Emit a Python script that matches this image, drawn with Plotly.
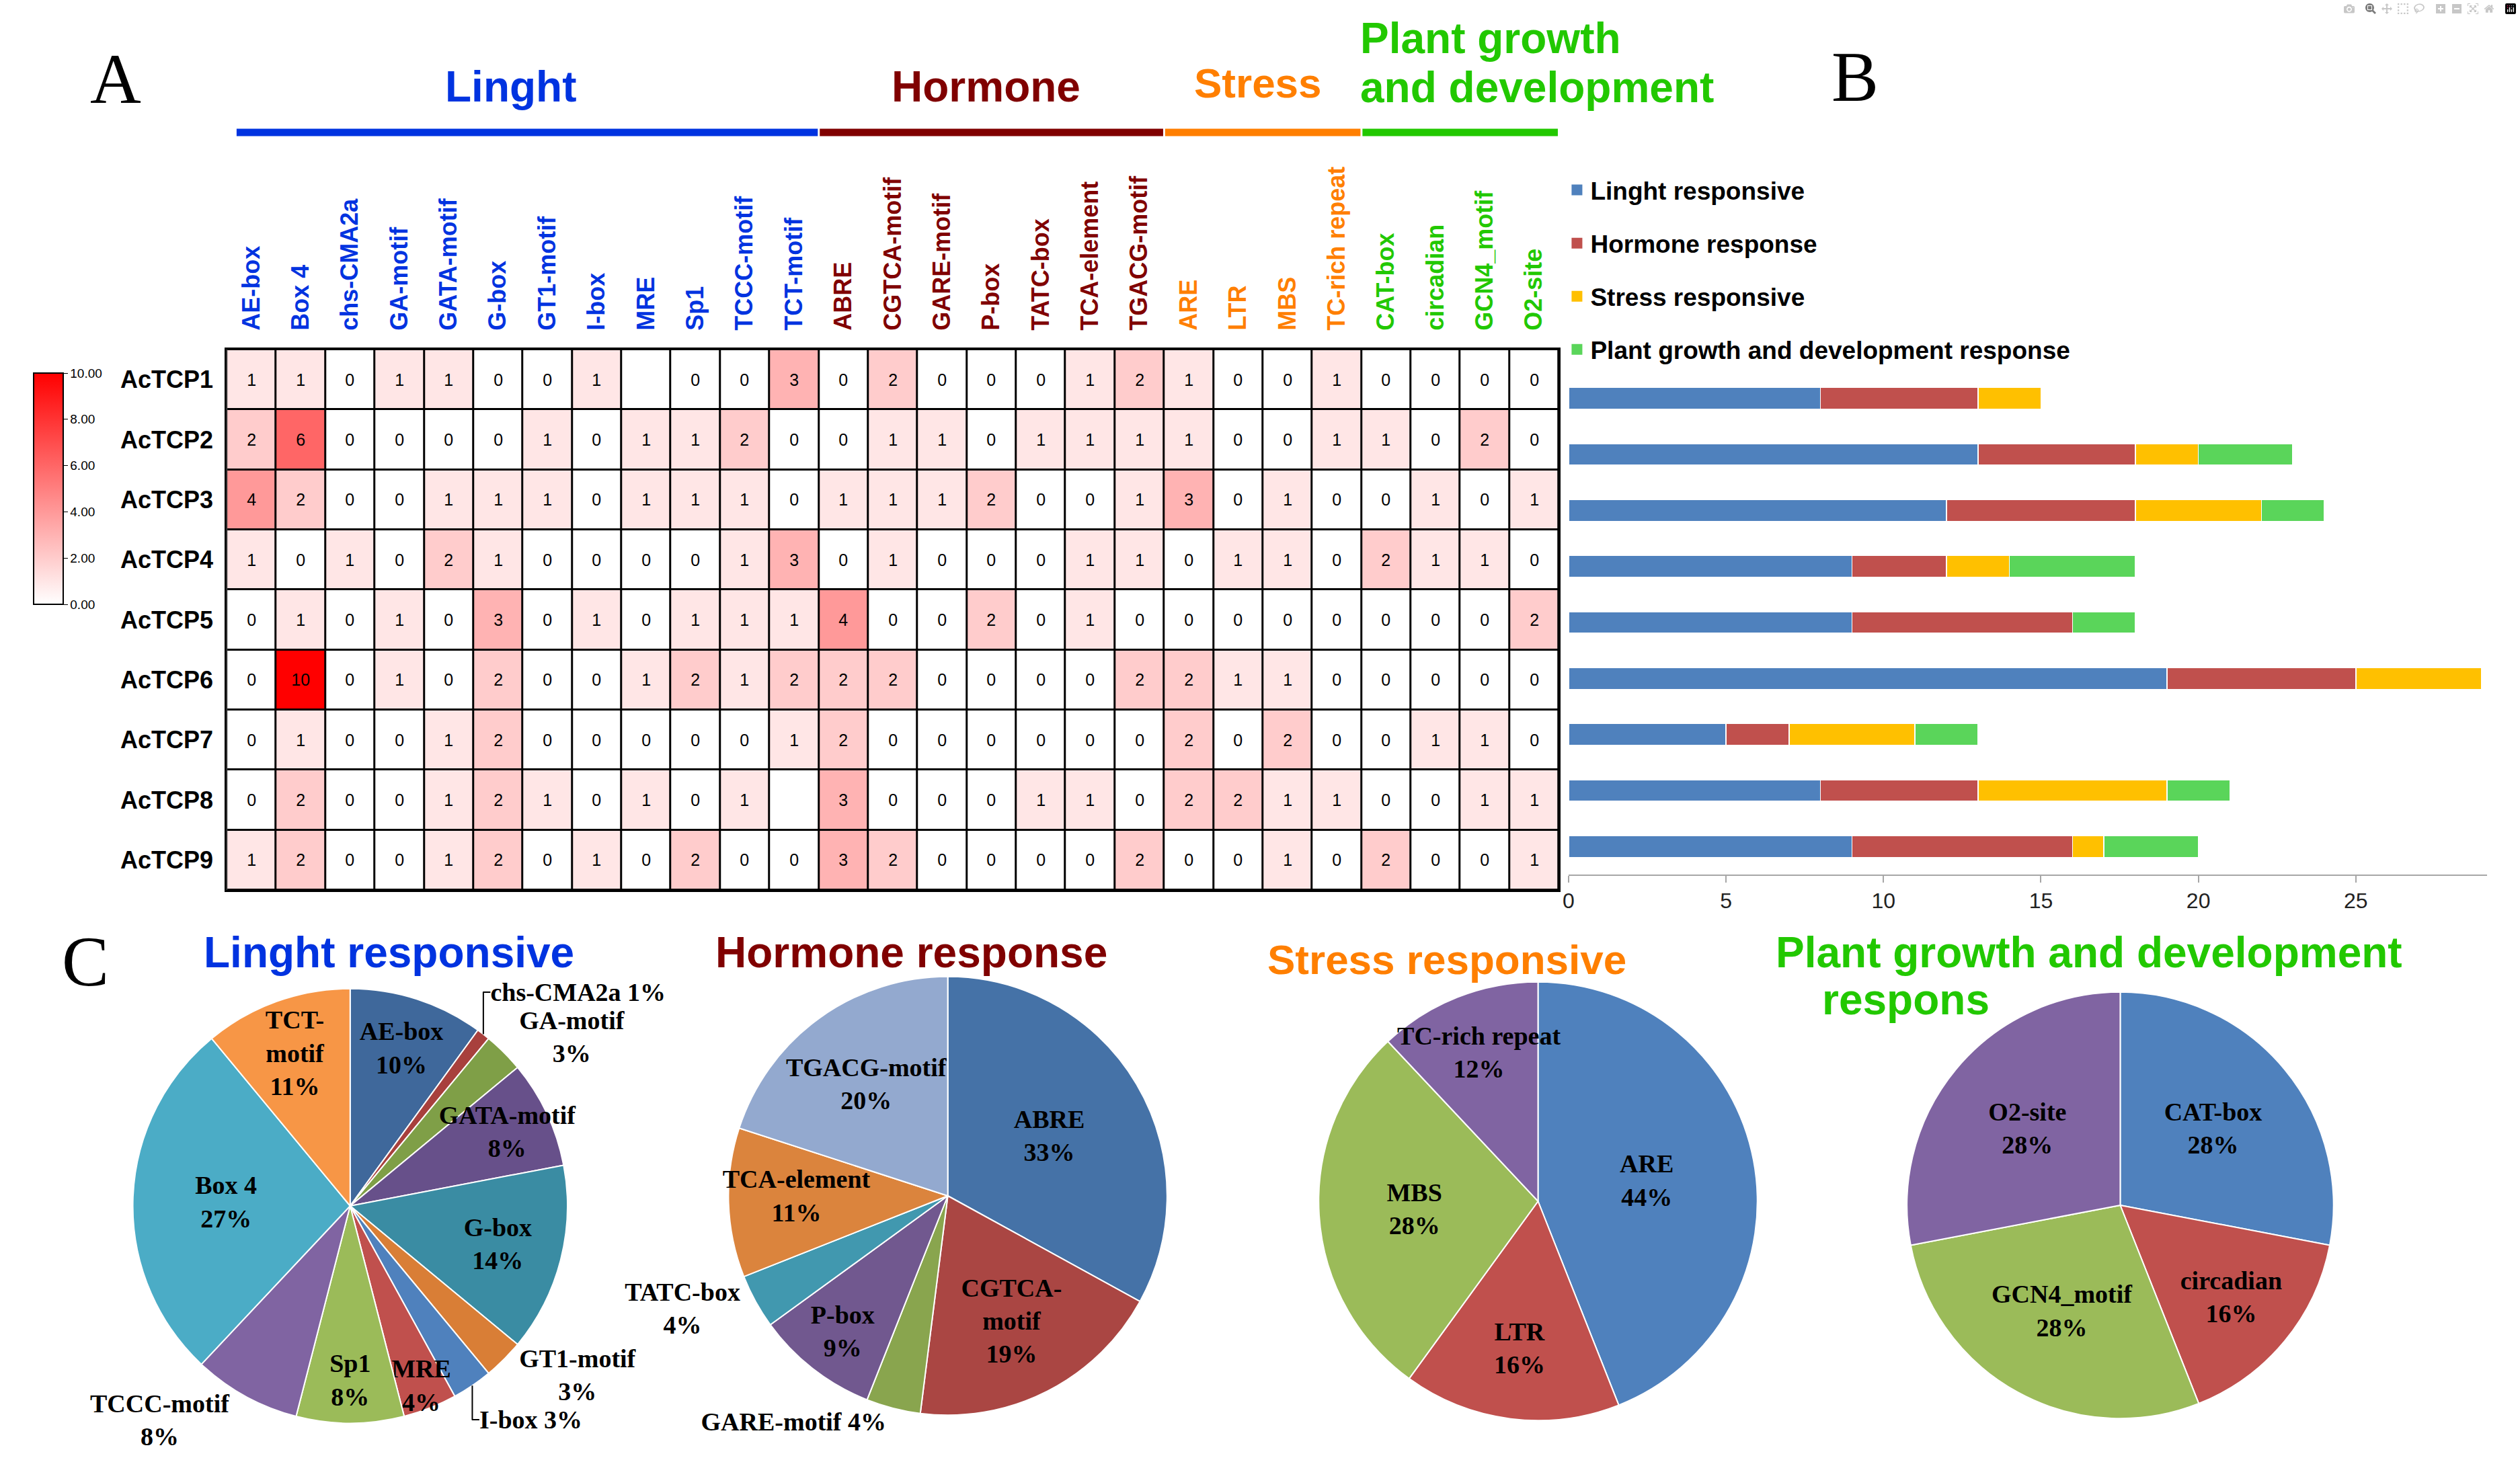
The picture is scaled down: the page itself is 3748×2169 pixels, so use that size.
import plotly.graph_objects as go

W, H = 3748, 2169

# ---------------- data ----------------
genes = ["AcTCP1", "AcTCP2", "AcTCP3", "AcTCP4", "AcTCP5", "AcTCP6", "AcTCP7", "AcTCP8", "AcTCP9"]

light_motifs = ["AE-box", "Box 4", "chs-CMA2a", "GA-motif", "GATA-motif", "G-box", "GT1-motif",
                "I-box", "MRE", "Sp1", "TCCC-motif", "TCT-motif"]
hormone_motifs = ["ABRE", "CGTCA-motif", "GARE-motif", "P-box", "TATC-box", "TCA-element", "TGACG-motif"]
stress_motifs = ["ARE", "LTR", "MBS", "TC-rich repeat"]
growth_motifs = ["CAT-box", "circadian", "GCN4_motif", "O2-site"]

# counts per gene (None = empty cell in the original table)
actcp1 = [1, 1, 0, 1, 1, 0, 0, 1, None, 0, 0, 3, 0, 2, 0, 0, 0, 1, 2, 1, 0, 0, 1, 0, 0, 0, 0]
actcp2 = [2, 6, 0, 0, 0, 0, 1, 0, 1, 1, 2, 0, 0, 1, 1, 0, 1, 1, 1, 1, 0, 0, 1, 1, 0, 2, 0]
actcp3 = [4, 2, 0, 0, 1, 1, 1, 0, 1, 1, 1, 0, 1, 1, 1, 2, 0, 0, 1, 3, 0, 1, 0, 0, 1, 0, 1]
actcp4 = [1, 0, 1, 0, 2, 1, 0, 0, 0, 0, 1, 3, 0, 1, 0, 0, 0, 1, 1, 0, 1, 1, 0, 2, 1, 1, 0]
actcp5 = [0, 1, 0, 1, 0, 3, 0, 1, 0, 1, 1, 1, 4, 0, 0, 2, 0, 1, 0, 0, 0, 0, 0, 0, 0, 0, 2]
actcp6 = [0, 10, 0, 1, 0, 2, 0, 0, 1, 2, 1, 2, 2, 2, 0, 0, 0, 0, 2, 2, 1, 1, 0, 0, 0, 0, 0]
actcp7 = [0, 1, 0, 0, 1, 2, 0, 0, 0, 0, 0, 1, 2, 0, 0, 0, 0, 0, 0, 2, 0, 2, 0, 0, 1, 1, 0]
actcp8 = [0, 2, 0, 0, 1, 2, 1, 0, 1, 0, 1, None, 3, 0, 0, 0, 1, 1, 0, 2, 2, 1, 1, 0, 0, 1, 1]
actcp9 = [1, 2, 0, 0, 1, 2, 0, 1, 0, 2, 0, 0, 3, 2, 0, 0, 0, 0, 2, 0, 0, 1, 0, 2, 0, 0, 1]

# panel B: stacked counts per gene
light_counts = [8, 13, 12, 9, 9, 19, 5, 8, 9]
hormone_counts = [5, 5, 6, 3, 7, 6, 2, 5, 7]
stress_counts = [2, 2, 4, 2, 0, 4, 4, 6, 1]
growth_counts = [0, 3, 2, 4, 2, 0, 2, 2, 3]
bar_names = ["Linght responsive", "Hormone response", "Stress responsive",
             "Plant growth and development response"]
bar_ticks = [0, 5, 10, 15, 20, 25]
colorbar_ticks = [0, 2, 4, 6, 8, 10]

# panel C: pies (percent)
light_pie_labels = ["AE-box", "chs-CMA2a", "GA-motif", "GATA-motif", "G-box", "GT1-motif",
                    "I-box", "MRE", "Sp1", "TCCC-motif", "Box 4", "TCT-motif"]
light_pie_text = ["AE-box", "chs-CMA2a", "GA-motif", "GATA-motif", "G-box", "GT1-motif",
                  "I-box", "MRE", "Sp1", "TCCC-motif", "Box 4", "TCT-<br>motif"]
light_pie_pct = [10, 1, 3, 8, 14, 3, 3, 4, 8, 8, 27, 11]

hormone_pie_labels = ["ABRE", "CGTCA-motif", "GARE-motif", "P-box", "TATC-box", "TCA-element", "TGACG-motif"]
hormone_pie_text = ["ABRE", "CGTCA-<br>motif", "GARE-motif", "P-box", "TATC-box", "TCA-element", "TGACG-motif"]
hormone_pie_pct = [33, 19, 4, 9, 4, 11, 20]

stress_pie_labels = ["ARE", "LTR", "MBS", "TC-rich repeat"]
stress_pie_pct = [44, 16, 28, 12]

growth_pie_labels = ["CAT-box", "circadian", "GCN4_motif", "O2-site"]
growth_pie_pct = [28, 16, 28, 28]

# ---------------- style ----------------
SANS = "Liberation Sans, Arial, sans-serif"
SERIF = "Liberation Serif, Times New Roman, serif"

C_BLUE = "#0033E0"
C_DRED = "#800000"
C_ORANGE = "#FF7F00"
C_GREEN = "#22C800"

BAR_COLORS = ["#4F81BD", "#C0504D", "#FFC000", "#5AD55A"]


def px(x):
    return x / W


def py(y):
    return 1 - y / H


rows = [actcp1, actcp2, actcp3, actcp4, actcp5, actcp6, actcp7, actcp8, actcp9]
motifs = light_motifs + hormone_motifs + stress_motifs + growth_motifs
motif_colors = ([C_BLUE] * len(light_motifs) + [C_DRED] * len(hormone_motifs)
                + [C_ORANGE] * len(stress_motifs) + [C_GREEN] * len(growth_motifs))
ncol = len(motifs)
xi = list(range(ncol))

z_color = [[(v if v is not None else 0) for v in r] for r in rows]
z_text = [[("" if v is None else str(v)) for v in r] for r in rows]
z_back = [[0] * ncol for _ in rows]

fig = go.Figure()

# black under-layer so the cell gaps read as grid lines
fig.add_trace(go.Heatmap(z=z_back, x=xi, y=genes, colorscale=[[0, "black"], [1, "black"]],
                         showscale=False, hoverinfo="skip", xaxis="x", yaxis="y"))
fig.add_trace(go.Heatmap(
    z=z_color, x=xi, y=genes, text=z_text, texttemplate="%{text}",
    textfont=dict(family=SANS, size=25, color="black"),
    colorscale=[[0, "#FFFFFF"], [1, "#FF0000"]], zmin=0, zmax=10,
    xgap=3, ygap=3, hoverinfo="skip", xaxis="x", yaxis="y",
    colorbar=dict(x=px(41), xanchor="left", y=py(727), yanchor="middle",
                  lenmode="pixels", len=344, thicknessmode="pixels", thickness=44,
                  xpad=0, ypad=0, outlinewidth=2, outlinecolor="black",
                  tickvals=colorbar_ticks, tickformat=".2f", ticks="outside", ticklen=6,
                  tickcolor="black", tickfont=dict(family=SANS, size=19, color="black")),
))

# panel B bars
for name, vals, col in zip(bar_names, [light_counts, hormone_counts, stress_counts, growth_counts], BAR_COLORS):
    fig.add_trace(go.Bar(x=vals, y=genes, orientation="h", marker=dict(color=col, line=dict(color="white", width=1.5)),
                         name=name, showlegend=False, hoverinfo="skip", xaxis="x2", yaxis="y2"))
for i, (name, col) in enumerate(zip(bar_names, BAR_COLORS)):
    fig.add_trace(go.Scatter(x=[None], y=[None], mode="markers", name=name, legendgroup=f"g{i}",
                             marker=dict(symbol="square", size=22, color=col),
                             xaxis="x2", yaxis="y2", showlegend=True, hoverinfo="skip"))

# panel C pies
PIE_FONT = dict(family=SERIF, size=38, color="black", weight="bold")
TWO_LINE = "%{text}<br>%{percent:.0%}"
ONE_LINE = "%{text} %{percent:.0%}"


def add_pie(labels, values, text, colors, positions, templates, x0, x1, y0, y1):
    fig.add_trace(go.Pie(
        labels=labels, values=values, text=text, sort=False, direction="clockwise", rotation=0,
        marker=dict(colors=colors, line=dict(color="white", width=2)),
        textinfo="none", texttemplate=templates, textposition=positions,
        insidetextorientation="horizontal", textfont=PIE_FONT, insidetextfont=PIE_FONT,
        outsidetextfont=PIE_FONT, showlegend=False, hoverinfo="skip",
        domain=dict(x=[px(x0), px(x1)], y=[py(y1), py(y0)])))


add_pie(light_pie_labels, light_pie_pct, light_pie_text,
        ["#3F689B", "#A8403D", "#7F9F47", "#67508A", "#3A8CA3", "#D97E36",
         "#4F81BD", "#C0504D", "#9BBB59", "#8064A2", "#4BACC6", "#F79646"],
        ["inside", "outside", "outside", "inside", "inside", "outside",
         "outside", "inside", "inside", "outside", "inside", "inside"],
        [TWO_LINE, ONE_LINE, TWO_LINE, TWO_LINE, TWO_LINE, TWO_LINE,
         ONE_LINE, TWO_LINE, TWO_LINE, TWO_LINE, TWO_LINE, TWO_LINE],
        189, 837, 1470, 2118)
add_pie(hormone_pie_labels, hormone_pie_pct, hormone_pie_text,
        ["#4572A7", "#AA4643", "#89A54E", "#71588F", "#4198AF", "#DB843D", "#93A9CF"],
        ["inside", "inside", "outside", "inside", "outside", "inside", "inside"],
        [TWO_LINE, TWO_LINE, ONE_LINE, TWO_LINE, TWO_LINE, TWO_LINE, TWO_LINE],
        1077, 1731, 1452, 2106)
add_pie(stress_pie_labels, stress_pie_pct, stress_pie_labels,
        ["#4F81BD", "#C0504D", "#9BBB59", "#8064A2"], "inside", TWO_LINE,
        1957, 2611, 1460, 2114)
add_pie(growth_pie_labels, growth_pie_pct, growth_pie_labels,
        ["#4F81BD", "#C0504D", "#9BBB59", "#8064A2"], "inside", TWO_LINE,
        2834, 3470, 1475, 2111)

ticktext = [f'<span style="color:{c}">{m}</span>' for m, c in zip(motifs, motif_colors)]

# group lines above the heatmap
shapes = []
groups = [(light_motifs, C_BLUE), (hormone_motifs, C_DRED), (stress_motifs, C_ORANGE), (growth_motifs, C_GREEN)]
start = 0
for gi, (g, c) in enumerate(groups):
    x0 = start - 0.5 + (0.2 if gi == 0 else 0.02)
    x1 = start + len(g) - 0.5 - 0.02
    shapes.append(dict(type="line", xref="x", yref="paper", x0=x0, x1=x1, y0=py(197), y1=py(197),
                       line=dict(color=c, width=11)))
    start += len(g)


def ann(text, x, y, size, color="black", family=SANS, bold=True, xanchor="center"):
    return dict(text=text, x=px(x), y=py(y), xref="paper", yref="paper", showarrow=False,
                xanchor=xanchor, yanchor="middle",
                font=dict(family=family, size=size, color=color, weight="bold" if bold else "normal"))


annotations = [
    ann("A", 163, 117, 105, family=SERIF, bold=False),
    ann("B", 2757, 114, 105, family=SERIF, bold=False),
    ann("C", 118, 1430, 105, family=SERIF, bold=False),
    ann("Linght", 752, 129, 64, C_BLUE),
    ann("Hormone", 1461, 129, 64, C_DRED),
    ann("Stress", 1866, 123, 62, C_ORANGE),
    ann("Plant growth", 2017, 57, 64, C_GREEN, xanchor="left"),
    ann("and development", 2017, 130, 64, C_GREEN, xanchor="left"),
    ann("Linght responsive", 571, 1417, 64, C_BLUE),
    ann("Hormone response", 1350, 1417, 64, C_DRED),
    ann("Stress responsive", 2148, 1427, 62, C_ORANGE),
    ann("Plant growth and development", 3105, 1417, 64, C_GREEN),
    ann("respons", 2705, 1487, 64, C_GREEN, xanchor="left"),
]

fig.update_layout(
    width=W, height=H, margin=dict(l=0, r=0, t=0, b=0),
    paper_bgcolor="white", plot_bgcolor="white",
    barmode="stack", bargap=0.615,
    uniformtext=dict(minsize=38, mode="show"),
    shapes=shapes, annotations=annotations,
    xaxis=dict(domain=[px(329), px(2315)], anchor="y", range=[-0.5, ncol - 0.5],
               tickvals=xi, ticktext=ticktext, side="top", tickangle=-90,
               tickfont=dict(family=SANS, size=36, weight="bold"), ticks="", ticklabelstandoff=18,
               showgrid=False, zeroline=False, showline=True, mirror=True, linecolor="black", linewidth=3),
    yaxis=dict(domain=[py(1324), py(520)], anchor="x", autorange="reversed",
               tickfont=dict(family=SANS, size=36, color="black", weight="bold"), ticks="",
               ticklabelstandoff=10, showgrid=False, zeroline=False,
               showline=True, mirror=True, linecolor="black", linewidth=3),
    xaxis2=dict(domain=[px(2329.5), px(3699)], anchor="y2", range=[0, 29.17],
                tickvals=bar_ticks, showline=True, linecolor="#A6A6A6", linewidth=2,
                ticks="outside", ticklen=10, tickcolor="#A6A6A6", tickwidth=2,
                tickfont=dict(family=SANS, size=32, color="#222222"),
                showgrid=False, zeroline=False),
    yaxis2=dict(domain=[py(1301), py(551)], anchor="x2", autorange="reversed",
                showticklabels=False, showgrid=False, zeroline=False, showline=False, ticks=""),
    legend=dict(x=px(2322), y=py(252), xanchor="left", yanchor="top", tracegroupgap=28,
                bgcolor="rgba(0,0,0,0)", font=dict(family=SANS, size=37, color="black", weight="bold"),
                itemwidth=30),
)

fig.write_html("out.html", post_script="document.body.style.margin='0';")
